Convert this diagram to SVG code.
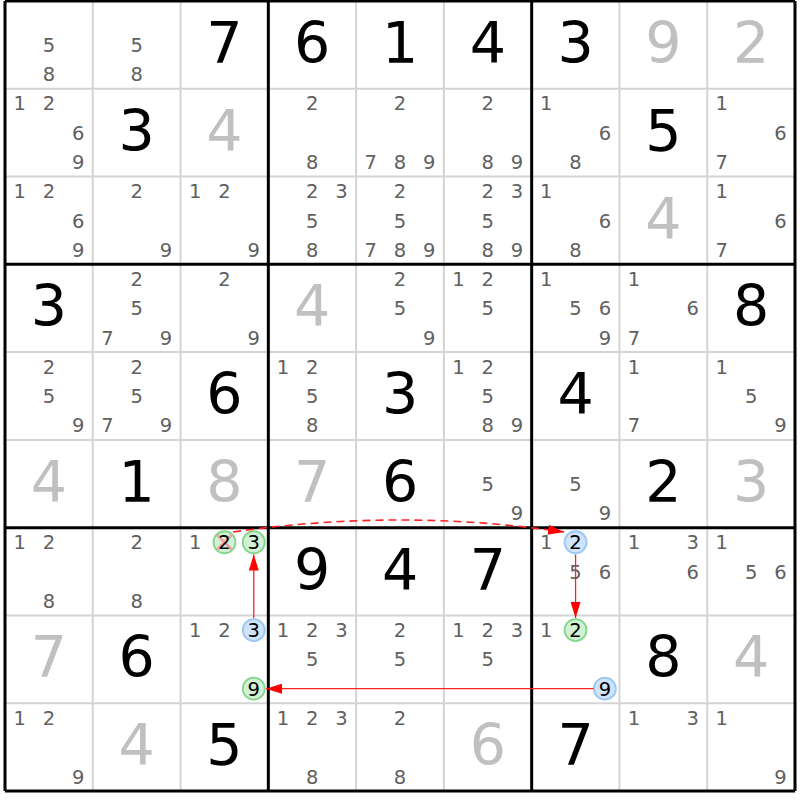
<svg xmlns="http://www.w3.org/2000/svg" width="800" height="800" viewBox="0 0 800 800">
<style>
text{font-family:"DejaVu Sans","Verdana",sans-serif;text-anchor:middle}
.c{font-size:19.5px;fill:#606060}
.h{font-size:19.5px;fill:#000}
.g{font-size:57px;fill:#000}
.s{font-size:57px;fill:#c0c0c0}
.thin{stroke:#d4d4d4;stroke-width:2}
.thick{stroke:#000;stroke-width:3}
.blue{fill:#cfe3fa;stroke:#9cc7f2;stroke-width:1.8}
.green{fill:#d2f1d4;stroke:#84d68c;stroke-width:1.8}
.cross{stroke:#f2a0a0;stroke-width:2.5}
.link{stroke:#ff2020;stroke-width:1.3;fill:none}
.dash{stroke:#ff2020;stroke-width:1.6;fill:none;stroke-dasharray:8 5}
</style>
<defs>
<marker id="arr" markerUnits="userSpaceOnUse" markerWidth="16" markerHeight="10" refX="16" refY="5" orient="auto">
<path d="M0,0 L16,5 L0,10 z" fill="#ff0000"/>
</marker>
</defs>
<rect x="0" y="0" width="800" height="800" fill="#fff"/>
<g id="grid">
<path class="thin" d="M92.78,1V791M180.56,1V791M356.11,1V791M443.89,1V791M619.44,1V791M707.22,1V791M5,88.78H795M5,176.56H795M5,352.11H795M5,439.89H795M5,615.44H795M5,703.22H795"/>
<path class="thick" d="M5,1V791M268.33,1V791M531.67,1V791M795,1V791M5,1H795M5,264.33H795M5,527.67H795M5,791H795"/>
</g>
<g id="r1">
<g id="r1c1" transform="translate(5,1)"><text class="c" x="43.9" y="51">5</text><text class="c" x="43.9" y="80.3">8</text></g>
<g id="r1c2" transform="translate(92.78,1)"><text class="c" x="43.9" y="51">5</text><text class="c" x="43.9" y="80.3">8</text></g>
<g id="r1c3" transform="translate(180.56,1)"><text class="g" x="43.9" y="62">7</text></g>
<g id="r1c4" transform="translate(268.33,1)"><text class="g" x="43.9" y="62">6</text></g>
<g id="r1c5" transform="translate(356.11,1)"><text class="g" x="43.9" y="62">1</text></g>
<g id="r1c6" transform="translate(443.89,1)"><text class="g" x="43.9" y="62">4</text></g>
<g id="r1c7" transform="translate(531.67,1)"><text class="g" x="43.9" y="62">3</text></g>
<g id="r1c8" transform="translate(619.44,1)"><text class="s" x="43.9" y="62">9</text></g>
<g id="r1c9" transform="translate(707.22,1)"><text class="s" x="43.9" y="62">2</text></g>
</g>
<g id="r2">
<g id="r2c1" transform="translate(5,88.78)"><text class="c" x="14.6" y="21.7">1</text><text class="c" x="43.9" y="21.7">2</text><text class="c" x="73.2" y="51">6</text><text class="c" x="73.2" y="80.3">9</text></g>
<g id="r2c2" transform="translate(92.78,88.78)"><text class="g" x="43.9" y="62">3</text></g>
<g id="r2c3" transform="translate(180.56,88.78)"><text class="s" x="43.9" y="62">4</text></g>
<g id="r2c4" transform="translate(268.33,88.78)"><text class="c" x="43.9" y="21.7">2</text><text class="c" x="43.9" y="80.3">8</text></g>
<g id="r2c5" transform="translate(356.11,88.78)"><text class="c" x="43.9" y="21.7">2</text><text class="c" x="14.6" y="80.3">7</text><text class="c" x="43.9" y="80.3">8</text><text class="c" x="73.2" y="80.3">9</text></g>
<g id="r2c6" transform="translate(443.89,88.78)"><text class="c" x="43.9" y="21.7">2</text><text class="c" x="43.9" y="80.3">8</text><text class="c" x="73.2" y="80.3">9</text></g>
<g id="r2c7" transform="translate(531.67,88.78)"><text class="c" x="14.6" y="21.7">1</text><text class="c" x="73.2" y="51">6</text><text class="c" x="43.9" y="80.3">8</text></g>
<g id="r2c8" transform="translate(619.44,88.78)"><text class="g" x="43.9" y="62">5</text></g>
<g id="r2c9" transform="translate(707.22,88.78)"><text class="c" x="14.6" y="21.7">1</text><text class="c" x="73.2" y="51">6</text><text class="c" x="14.6" y="80.3">7</text></g>
</g>
<g id="r3">
<g id="r3c1" transform="translate(5,176.56)"><text class="c" x="14.6" y="21.7">1</text><text class="c" x="43.9" y="21.7">2</text><text class="c" x="73.2" y="51">6</text><text class="c" x="73.2" y="80.3">9</text></g>
<g id="r3c2" transform="translate(92.78,176.56)"><text class="c" x="43.9" y="21.7">2</text><text class="c" x="73.2" y="80.3">9</text></g>
<g id="r3c3" transform="translate(180.56,176.56)"><text class="c" x="14.6" y="21.7">1</text><text class="c" x="43.9" y="21.7">2</text><text class="c" x="73.2" y="80.3">9</text></g>
<g id="r3c4" transform="translate(268.33,176.56)"><text class="c" x="43.9" y="21.7">2</text><text class="c" x="73.2" y="21.7">3</text><text class="c" x="43.9" y="51">5</text><text class="c" x="43.9" y="80.3">8</text></g>
<g id="r3c5" transform="translate(356.11,176.56)"><text class="c" x="43.9" y="21.7">2</text><text class="c" x="43.9" y="51">5</text><text class="c" x="14.6" y="80.3">7</text><text class="c" x="43.9" y="80.3">8</text><text class="c" x="73.2" y="80.3">9</text></g>
<g id="r3c6" transform="translate(443.89,176.56)"><text class="c" x="43.9" y="21.7">2</text><text class="c" x="73.2" y="21.7">3</text><text class="c" x="43.9" y="51">5</text><text class="c" x="43.9" y="80.3">8</text><text class="c" x="73.2" y="80.3">9</text></g>
<g id="r3c7" transform="translate(531.67,176.56)"><text class="c" x="14.6" y="21.7">1</text><text class="c" x="73.2" y="51">6</text><text class="c" x="43.9" y="80.3">8</text></g>
<g id="r3c8" transform="translate(619.44,176.56)"><text class="s" x="43.9" y="62">4</text></g>
<g id="r3c9" transform="translate(707.22,176.56)"><text class="c" x="14.6" y="21.7">1</text><text class="c" x="73.2" y="51">6</text><text class="c" x="14.6" y="80.3">7</text></g>
</g>
<g id="r4">
<g id="r4c1" transform="translate(5,264.33)"><text class="g" x="43.9" y="62">3</text></g>
<g id="r4c2" transform="translate(92.78,264.33)"><text class="c" x="43.9" y="21.7">2</text><text class="c" x="43.9" y="51">5</text><text class="c" x="14.6" y="80.3">7</text><text class="c" x="73.2" y="80.3">9</text></g>
<g id="r4c3" transform="translate(180.56,264.33)"><text class="c" x="43.9" y="21.7">2</text><text class="c" x="73.2" y="80.3">9</text></g>
<g id="r4c4" transform="translate(268.33,264.33)"><text class="s" x="43.9" y="62">4</text></g>
<g id="r4c5" transform="translate(356.11,264.33)"><text class="c" x="43.9" y="21.7">2</text><text class="c" x="43.9" y="51">5</text><text class="c" x="73.2" y="80.3">9</text></g>
<g id="r4c6" transform="translate(443.89,264.33)"><text class="c" x="14.6" y="21.7">1</text><text class="c" x="43.9" y="21.7">2</text><text class="c" x="43.9" y="51">5</text></g>
<g id="r4c7" transform="translate(531.67,264.33)"><text class="c" x="14.6" y="21.7">1</text><text class="c" x="43.9" y="51">5</text><text class="c" x="73.2" y="51">6</text><text class="c" x="73.2" y="80.3">9</text></g>
<g id="r4c8" transform="translate(619.44,264.33)"><text class="c" x="14.6" y="21.7">1</text><text class="c" x="73.2" y="51">6</text><text class="c" x="14.6" y="80.3">7</text></g>
<g id="r4c9" transform="translate(707.22,264.33)"><text class="g" x="43.9" y="62">8</text></g>
</g>
<g id="r5">
<g id="r5c1" transform="translate(5,352.11)"><text class="c" x="43.9" y="21.7">2</text><text class="c" x="43.9" y="51">5</text><text class="c" x="73.2" y="80.3">9</text></g>
<g id="r5c2" transform="translate(92.78,352.11)"><text class="c" x="43.9" y="21.7">2</text><text class="c" x="43.9" y="51">5</text><text class="c" x="14.6" y="80.3">7</text><text class="c" x="73.2" y="80.3">9</text></g>
<g id="r5c3" transform="translate(180.56,352.11)"><text class="g" x="43.9" y="62">6</text></g>
<g id="r5c4" transform="translate(268.33,352.11)"><text class="c" x="14.6" y="21.7">1</text><text class="c" x="43.9" y="21.7">2</text><text class="c" x="43.9" y="51">5</text><text class="c" x="43.9" y="80.3">8</text></g>
<g id="r5c5" transform="translate(356.11,352.11)"><text class="g" x="43.9" y="62">3</text></g>
<g id="r5c6" transform="translate(443.89,352.11)"><text class="c" x="14.6" y="21.7">1</text><text class="c" x="43.9" y="21.7">2</text><text class="c" x="43.9" y="51">5</text><text class="c" x="43.9" y="80.3">8</text><text class="c" x="73.2" y="80.3">9</text></g>
<g id="r5c7" transform="translate(531.67,352.11)"><text class="g" x="43.9" y="62">4</text></g>
<g id="r5c8" transform="translate(619.44,352.11)"><text class="c" x="14.6" y="21.7">1</text><text class="c" x="14.6" y="80.3">7</text></g>
<g id="r5c9" transform="translate(707.22,352.11)"><text class="c" x="14.6" y="21.7">1</text><text class="c" x="43.9" y="51">5</text><text class="c" x="73.2" y="80.3">9</text></g>
</g>
<g id="r6">
<g id="r6c1" transform="translate(5,439.89)"><text class="s" x="43.9" y="62">4</text></g>
<g id="r6c2" transform="translate(92.78,439.89)"><text class="g" x="43.9" y="62">1</text></g>
<g id="r6c3" transform="translate(180.56,439.89)"><text class="s" x="43.9" y="62">8</text></g>
<g id="r6c4" transform="translate(268.33,439.89)"><text class="s" x="43.9" y="62">7</text></g>
<g id="r6c5" transform="translate(356.11,439.89)"><text class="g" x="43.9" y="62">6</text></g>
<g id="r6c6" transform="translate(443.89,439.89)"><text class="c" x="43.9" y="51">5</text><text class="c" x="73.2" y="80.3">9</text></g>
<g id="r6c7" transform="translate(531.67,439.89)"><text class="c" x="43.9" y="51">5</text><text class="c" x="73.2" y="80.3">9</text></g>
<g id="r6c8" transform="translate(619.44,439.89)"><text class="g" x="43.9" y="62">2</text></g>
<g id="r6c9" transform="translate(707.22,439.89)"><text class="s" x="43.9" y="62">3</text></g>
</g>
<g id="r7">
<g id="r7c1" transform="translate(5,527.67)"><text class="c" x="14.6" y="21.7">1</text><text class="c" x="43.9" y="21.7">2</text><text class="c" x="43.9" y="80.3">8</text></g>
<g id="r7c2" transform="translate(92.78,527.67)"><text class="c" x="43.9" y="21.7">2</text><text class="c" x="43.9" y="80.3">8</text></g>
<g id="r7c3" transform="translate(180.56,527.67)"><text class="c" x="14.6" y="21.7">1</text>
<circle class="green" cx="43.9" cy="14.6" r="11"/><path class="cross" d="M36.5,7.2L51.3,22M51.3,7.2L36.5,22"/><text class="h" x="43.9" y="21.7">2</text>
<circle class="green" cx="73.2" cy="14.6" r="11"/><text class="h" x="73.2" y="21.7">3</text></g>
<g id="r7c4" transform="translate(268.33,527.67)"><text class="g" x="43.9" y="62">9</text></g>
<g id="r7c5" transform="translate(356.11,527.67)"><text class="g" x="43.9" y="62">4</text></g>
<g id="r7c6" transform="translate(443.89,527.67)"><text class="g" x="43.9" y="62">7</text></g>
<g id="r7c7" transform="translate(531.67,527.67)"><text class="c" x="14.6" y="21.7">1</text><circle class="blue" cx="43.9" cy="14.6" r="11"/><text class="h" x="43.9" y="21.7">2</text><text class="c" x="43.9" y="51">5</text><text class="c" x="73.2" y="51">6</text></g>
<g id="r7c8" transform="translate(619.44,527.67)"><text class="c" x="14.6" y="21.7">1</text><text class="c" x="73.2" y="21.7">3</text><text class="c" x="73.2" y="51">6</text></g>
<g id="r7c9" transform="translate(707.22,527.67)"><text class="c" x="14.6" y="21.7">1</text><text class="c" x="43.9" y="51">5</text><text class="c" x="73.2" y="51">6</text></g>
</g>
<g id="r8">
<g id="r8c1" transform="translate(5,615.44)"><text class="s" x="43.9" y="62">7</text></g>
<g id="r8c2" transform="translate(92.78,615.44)"><text class="g" x="43.9" y="62">6</text></g>
<g id="r8c3" transform="translate(180.56,615.44)"><text class="c" x="14.6" y="21.7">1</text><text class="c" x="43.9" y="21.7">2</text><circle class="blue" cx="73.2" cy="14.6" r="11"/><text class="h" x="73.2" y="21.7">3</text><circle class="green" cx="73.2" cy="73.2" r="11"/><text class="h" x="73.2" y="80.3">9</text></g>
<g id="r8c4" transform="translate(268.33,615.44)"><text class="c" x="14.6" y="21.7">1</text><text class="c" x="43.9" y="21.7">2</text><text class="c" x="73.2" y="21.7">3</text><text class="c" x="43.9" y="51">5</text></g>
<g id="r8c5" transform="translate(356.11,615.44)"><text class="c" x="43.9" y="21.7">2</text><text class="c" x="43.9" y="51">5</text></g>
<g id="r8c6" transform="translate(443.89,615.44)"><text class="c" x="14.6" y="21.7">1</text><text class="c" x="43.9" y="21.7">2</text><text class="c" x="73.2" y="21.7">3</text><text class="c" x="43.9" y="51">5</text></g>
<g id="r8c7" transform="translate(531.67,615.44)"><text class="c" x="14.6" y="21.7">1</text><circle class="green" cx="43.9" cy="14.6" r="11"/><text class="h" x="43.9" y="21.7">2</text><circle class="blue" cx="73.2" cy="73.2" r="11"/><text class="h" x="73.2" y="80.3">9</text></g>
<g id="r8c8" transform="translate(619.44,615.44)"><text class="g" x="43.9" y="62">8</text></g>
<g id="r8c9" transform="translate(707.22,615.44)"><text class="s" x="43.9" y="62">4</text></g>
</g>
<g id="r9">
<g id="r9c1" transform="translate(5,703.22)"><text class="c" x="14.6" y="21.7">1</text><text class="c" x="43.9" y="21.7">2</text><text class="c" x="73.2" y="80.3">9</text></g>
<g id="r9c2" transform="translate(92.78,703.22)"><text class="s" x="43.9" y="62">4</text></g>
<g id="r9c3" transform="translate(180.56,703.22)"><text class="g" x="43.9" y="62">5</text></g>
<g id="r9c4" transform="translate(268.33,703.22)"><text class="c" x="14.6" y="21.7">1</text><text class="c" x="43.9" y="21.7">2</text><text class="c" x="73.2" y="21.7">3</text><text class="c" x="43.9" y="80.3">8</text></g>
<g id="r9c5" transform="translate(356.11,703.22)"><text class="c" x="43.9" y="21.7">2</text><text class="c" x="43.9" y="80.3">8</text></g>
<g id="r9c6" transform="translate(443.89,703.22)"><text class="s" x="43.9" y="62">6</text></g>
<g id="r9c7" transform="translate(531.67,703.22)"><text class="g" x="43.9" y="62">7</text></g>
<g id="r9c8" transform="translate(619.44,703.22)"><text class="c" x="14.6" y="21.7">1</text><text class="c" x="73.2" y="21.7">3</text></g>
<g id="r9c9" transform="translate(707.22,703.22)"><text class="c" x="14.6" y="21.7">1</text><text class="c" x="73.2" y="80.3">9</text></g>
</g>
<g id="connectors">
<path class="dash" d="M233,532 Q400,508 564,532" marker-end="url(#arr)"/>
<path class="link" d="M575.57,554.5 L575.57,618" marker-end="url(#arr)"/>
<path class="link" d="M593.5,688.64 L266,688.64" marker-end="url(#arr)"/>
<path class="link" d="M253.76,618 L253.76,554.5" marker-end="url(#arr)"/>
</g>
</svg>
